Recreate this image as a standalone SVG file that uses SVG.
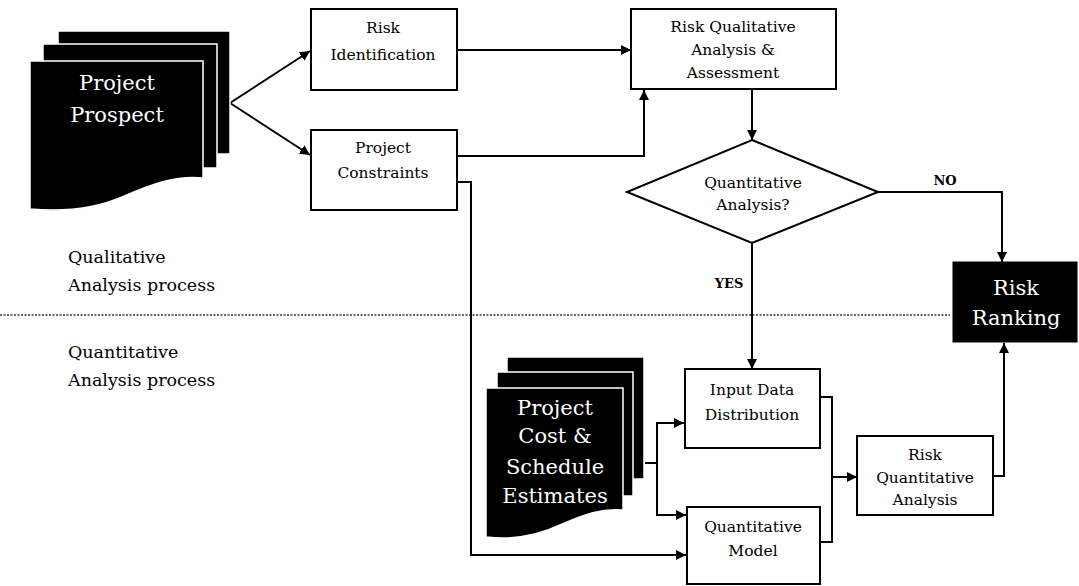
<svg xmlns="http://www.w3.org/2000/svg" width="1079" height="586" viewBox="0 0 1079 586">
<defs>
<marker id="ah" viewBox="0 0 10 10" refX="10" refY="5" markerWidth="10" markerHeight="10" markerUnits="userSpaceOnUse" orient="auto">
<path d="M0,0 L10,5 L0,10 Z" fill="#000"/>
</marker>
<style>
.box{fill:#fff;stroke:#000;stroke-width:2}
.blk{fill:#000;stroke:#000;stroke-width:1}
.sheet{fill:#000;stroke:#fff;stroke-width:1.5}
.t{font-family:"DejaVu Serif","Liberation Serif",serif;font-size:15.5px;fill:#000;text-anchor:middle}
.tl{font-family:"DejaVu Serif","Liberation Serif",serif;font-size:17.5px;fill:#000}
.tw{font-family:"DejaVu Serif","Liberation Serif",serif;font-size:21px;fill:#fff;text-anchor:middle}
.lab{font-family:"DejaVu Serif","Liberation Serif",serif;font-size:13px;font-weight:bold;fill:#000;text-anchor:middle}
.c{fill:none;stroke:#000;stroke-width:2}
.ca{fill:none;stroke:#000;stroke-width:2;marker-end:url(#ah)}
.dot{fill:none;stroke:#333;stroke-width:1.5;stroke-dasharray:2,1.5}
</style>
</defs>
<rect width="1079" height="586" fill="#fff"/>

<line class="dot" x1="0" y1="315" x2="950" y2="315"/>
<text class="tl" x="68" y="263">Qualitative</text>
<text class="tl" x="68" y="291">Analysis process</text>
<text class="tl" x="68" y="358">Quantitative</text>
<text class="tl" x="68" y="386">Analysis process</text>

<g id="connectors">
<polyline class="ca" points="230,103 310,51"/>
<polyline class="ca" points="230,103 310,155"/>
<polyline class="ca" points="457,50 631,50"/>
<polyline class="ca" points="457,156 644,156 644,90"/>
<polyline class="ca" points="752,89 752,140"/>
<polyline class="ca" points="878,192 1002,192 1002,262"/>
<polyline class="ca" points="752,243 752,369"/>
<polyline class="ca" points="457,182 471,182 471,555 686,555"/>
<polyline class="c" points="645,463 657,463"/>
<polyline class="ca" points="684,423 657,423 657,515 686,515" style="marker-end:url(#ah);marker-start:none"/>
<polyline class="ca" points="657,423 684,423"/>
<polyline class="c" points="820,397 832,397 832,542 820,542"/>
<polyline class="ca" points="832,477 857,477"/>
<polyline class="ca" points="993,476 1004,476 1004,343"/>
<text class="lab" x="945" y="185">NO</text>
<text class="lab" x="729" y="288">YES</text>
</g>

<g id="project-prospect">
<rect class="sheet" x="58" y="31" width="172" height="123"/>
<rect class="sheet" x="43" y="44" width="174" height="124"/>
<path class="sheet" d="M30,61 H203 V178 C176,175 152,184 122,197 C92,210 62,212 30,209 Z"/>
<text class="tw" x="117" y="90">Project</text>
<text class="tw" x="117" y="122">Prospect</text>
</g>

<g id="risk-identification">
<rect class="box" x="311" y="9" width="146" height="81"/>
<text class="t" x="383" y="33">Risk</text>
<text class="t" x="383" y="60">Identification</text>
</g>

<g id="project-constraints">
<rect class="box" x="311" y="130" width="146" height="80"/>
<text class="t" x="383" y="153">Project</text>
<text class="t" x="383" y="178">Constraints</text>
</g>

<g id="risk-qualitative">
<rect class="box" x="631" y="9" width="205" height="80"/>
<text class="t" x="733" y="32">Risk Qualitative</text>
<text class="t" x="733" y="55">Analysis &amp;</text>
<text class="t" x="733" y="78">Assessment</text>
</g>

<g id="decision">
<polygon class="box" points="752,140 878,192 752,243 627,192"/>
<text class="t" x="753" y="188">Quantitative</text>
<text class="t" x="753" y="210">Analysis?</text>
</g>

<g id="risk-ranking">
<rect class="blk" x="953" y="262" width="124" height="80"/>
<text class="tw" x="1016" y="295">Risk</text>
<text class="tw" x="1016" y="325">Ranking</text>
</g>

<g id="project-cost">
<rect class="sheet" x="507" y="357" width="137" height="122"/>
<rect class="sheet" x="497" y="372" width="136" height="124"/>
<path class="sheet" d="M486,388 H623 V510 C601,508 583,515 560,525 C537,536 512,540 486,537 Z"/>
<text class="tw" x="555" y="415">Project</text>
<text class="tw" x="555" y="443">Cost &amp;</text>
<text class="tw" x="555" y="474">Schedule</text>
<text class="tw" x="555" y="503">Estimates</text>
</g>

<g id="input-data">
<rect class="box" x="685" y="369" width="135" height="79"/>
<text class="t" x="752" y="395">Input Data</text>
<text class="t" x="752" y="420">Distribution</text>
</g>

<g id="quant-model">
<rect class="box" x="687" y="507" width="133" height="77"/>
<text class="t" x="753" y="532">Quantitative</text>
<text class="t" x="753" y="556">Model</text>
</g>

<g id="risk-quant">
<rect class="box" x="857" y="436" width="136" height="79"/>
<text class="t" x="925" y="460">Risk</text>
<text class="t" x="925" y="483">Quantitative</text>
<text class="t" x="925" y="505">Analysis</text>
</g>
</svg>
